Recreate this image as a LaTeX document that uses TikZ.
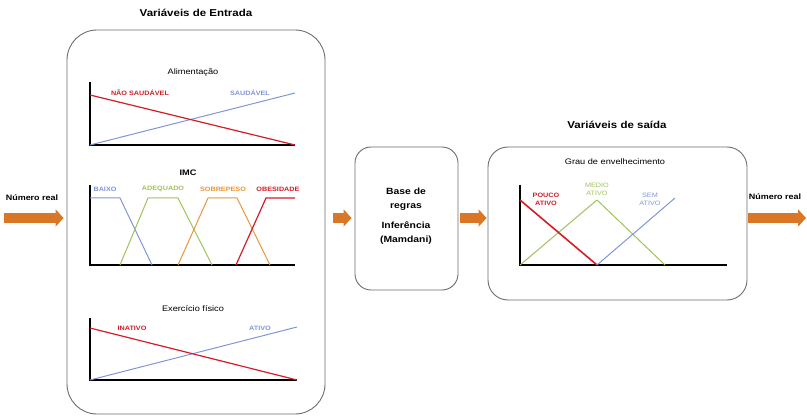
\documentclass[tikz,border=0pt]{standalone}
\usepackage{fontspec}
\setmainfont{Liberation Sans}[FakeStretch=1.15]
\usetikzlibrary{arrows.meta}
\definecolor{arrorange}{RGB}{217,119,38}
\definecolor{fred}{RGB}{210,30,40}
\definecolor{fblue}{RGB}{130,150,215}
\definecolor{fgreen}{RGB}{160,195,90}
\definecolor{forange}{RGB}{235,150,60}
\definecolor{panelgray}{RGB}{110,110,110}
\begin{document}
\begin{tikzpicture}[x=1pt,y=-1pt,
  panel/.style={draw=panelgray, line width=0.9pt, fill=white, inner sep=0pt},
  titletext/.style={font=\fontsize{10}{12}\selectfont\bfseries},
  subtext/.style={font=\fontsize{8}{10}\selectfont},
  lab/.style={font=\fontsize{6.3}{7.5}\selectfont\bfseries, inner sep=0pt, align=center},
  labreg/.style={font=\fontsize{6.3}{8}\selectfont, inner sep=0pt, align=center},
  numlab/.style={font=\fontsize{7.8}{9}\selectfont\bfseries, inner sep=0pt},
  axisline/.style={line width=1.4pt, black},
  curve/.style={line width=1pt, line join=round},
  bigarrow/.style={draw=arrorange, line width=10pt, -{Triangle[length=8pt,width=17pt]}}
]
\useasboundingbox (0,0) rectangle (807,417);
\fill[white] (0,0) rectangle (807,417);

% boxes
\node[panel, rounded corners=30pt, minimum width=258pt, minimum height=384pt] (inbox) at (196,222) {};
\node[panel, rounded corners=16pt, minimum width=103pt, minimum height=143pt] (midbox) at (406.5,218.5) {};
\node[panel, rounded corners=20pt, minimum width=259pt, minimum height=153pt] (outbox) at (617.5,223.5) {};

% titles
\node[titletext] (tin) at (196,13) {Variáveis de Entrada};
\node[titletext] (tout) at (617,125) {Variáveis de saída};

% Alimentacao
\node[subtext] (alim) at (193,72) {Alimentação};
\draw[axisline] (90,82) -- (90,145) -- (295,145);
\draw[curve, fblue] (90,145) -- (295,93);
\draw[curve, fred, line width=1.2pt] (90,95) -- (295,145);
\node[lab, fred] (nsaud) at (140,93) {NÃO SAUDÁVEL};
\node[lab, fblue] (saud) at (250,93) {SAUDÁVEL};

% IMC
\node[subtext, font=\fontsize{8}{10}\selectfont\bfseries] (imc) at (188,173) {IMC};
\draw[axisline] (90,185) -- (90,265) -- (295,265);
\draw[curve, fblue] (90,198) -- (120,198) -- (152,265);
\draw[curve, fgreen] (120,265) -- (148,198) -- (178,198) -- (212,265);
\draw[curve, forange] (178,265) -- (208,198) -- (237,198) -- (270,265);
\draw[curve, fred, line width=1.2pt] (236,265) -- (266,198) -- (295,198);
\node[lab, fblue] (baixo) at (105,189) {BAIXO};
\node[lab, fgreen] (adeq) at (163,189) {ADEQUADO};
\node[lab, forange] (sobre) at (223,189) {SOBREPESO};
\node[lab, fred] (obes) at (278,189) {OBESIDADE};

% Exercicio fisico
\node[subtext] (exerc) at (193,309) {Exercício físico};
\draw[axisline] (90,318) -- (90,380) -- (297,380);
\draw[curve, fblue] (90,380) -- (297,327);
\draw[curve, fred, line width=1.2pt] (90,328) -- (297,380);
\node[lab, fred] (inat) at (132,328) {INATIVO};
\node[lab, fblue] (ativo) at (260,328) {ATIVO};

% middle box text
\node[font=\fontsize{9}{13.5}\selectfont\bfseries, align=center] (regras) at (406,216)
  {Base de\\regras\\[7pt]Inferência\\(Mamdani)};

% output chart
\node[subtext] (grau) at (615,162) {Grau de envelhecimento};
\draw[axisline] (520,185) -- (520,265) -- (727,265);
\draw[curve, fgreen] (520,265) -- (597,200) -- (665,265);
\draw[curve, fblue] (597,265) -- (675,198);
\draw[curve, fred, line width=1.6pt] (520,200) -- (597,265);
\node[lab, fred] (pouco) at (546,199.5) {POUCO\\ATIVO};
\node[labreg, fgreen] (medio) at (597,189) {MEDIO\\ATIVO};
\node[labreg, fblue] (sem) at (650,199.5) {SEM\\ATIVO};

% arrows
\coordinate (ain) at (4,218);
\coordinate (aout) at (806,218);
\node[numlab] (nin) at (32,198) {Número real};
\node[numlab] (nout) at (775,197) {Número real};
\draw[bigarrow, shorten >=3pt] (ain) -- (inbox.west |- ain);
\draw[bigarrow, shorten <=8pt, shorten >=3pt] (inbox.east |- ain) -- (midbox.west |- ain);
\draw[bigarrow, shorten <=2pt, shorten >=1pt] (midbox.east |- ain) -- (outbox.west |- ain);
\draw[bigarrow, shorten <=1pt] (outbox.east |- ain) -- (aout);
\end{tikzpicture}
\end{document}
